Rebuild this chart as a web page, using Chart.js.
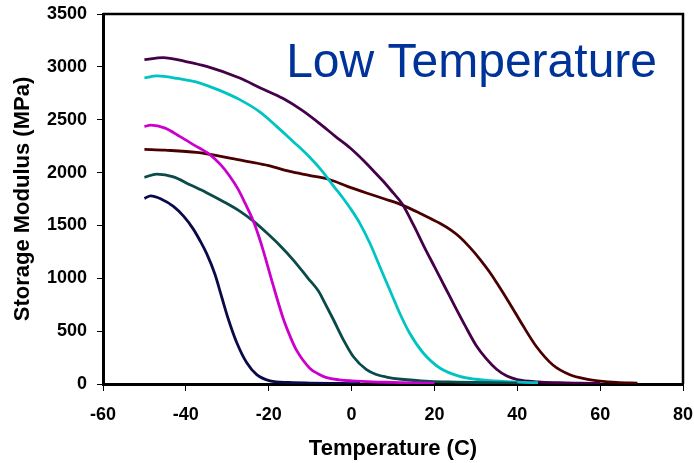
<!DOCTYPE html>
<html>
<head>
<meta charset="utf-8">
<script src="https://cdn.jsdelivr.net/npm/chart.js@4.4.1/dist/chart.umd.min.js"></script>
<style>
  body { margin: 0; background: #fff; }
  canvas { display: block; }
</style>
</head>
<body>
<canvas id="dmaChart" width="694" height="463"></canvas>
<script>
// temperatura (C) y modulo (MPa) de cada curva
const tempA = [-50, -48.5, -46, -43, -40.5, -38.2, -36.5, -35, -33, -31.4, -29.8, -27.7, -25.3, -22.9, -19.7, -15, -10, -5, 0, 2];
const modA  = [1755, 1780, 1750, 1680, 1585, 1465, 1350, 1235, 1040, 830, 620, 390, 200, 88, 30, 14, 9, 6, 4, 3];

const tempB = [-50, -48.5, -45, -41.4, -38, -34.2, -31.5, -29.4, -27.5, -25.7, -23.7, -22.5, -21.3, -18.9, -16.5, -14.5, -13.3, -10.1, -8, -6, -3, 0, 5, 10, 15, 20];
const modB  = [2435, 2448, 2420, 2340, 2260, 2170, 2070, 1965, 1850, 1710, 1540, 1410, 1260, 930, 620, 420, 320, 150, 95, 60, 40, 30, 20, 15, 10, 8];

const tempC = [-50, -47, -43, -39, -35, -31, -27, -23.7, -20.5, -17.3, -14, -10.5, -8, -6.5, -4.4, -2, 0.4, 3.6, 6, 8.4, 12, 18.9, 25, 30, 40];
const modC  = [1955, 1985, 1960, 1885, 1810, 1727, 1635, 1540, 1430, 1310, 1170, 1000, 880, 770, 610, 420, 260, 135, 90, 66, 45, 25, 18, 14, 8];

const tempD = [-50, -47, -42, -36.6, -32, -27, -22, -18.1, -14, -10.1, -7, -4.4, -2, 0, 2, 4.4, 6.8, 9.2, 11.6, 14, 17.3, 21.3, 26.1, 30, 33.4, 40, 45];
const modD  = [2895, 2915, 2890, 2847, 2780, 2690, 2570, 2437, 2290, 2145, 2010, 1875, 1755, 1645, 1520, 1334, 1112, 892, 672, 482, 293, 151, 72, 45, 31, 18, 12];

const tempE = [-50, -45.5, -40, -35, -27, -22, -16.5, -12, -7.6, -4, -0.4, 3, 5.2, 7.6, 10, 12.2, 15, 17.5, 20, 22.5, 25, 27.5, 30, 32.5, 35, 37.5, 40, 45, 50, 55, 60];
const modE  = [3068, 3088, 3050, 3004, 2894, 2800, 2700, 2590, 2460, 2345, 2235, 2110, 2020, 1920, 1810, 1705, 1500, 1300, 1110, 920, 730, 545, 370, 240, 140, 75, 42, 20, 12, 8, 5];

const tempF = [-50, -45, -37.4, -30, -25.3, -20, -14.9, -10, -5.2, -1, 3.6, 8, 12.4, 17, 21.3, 24, 26.1, 28.5, 31, 33.4, 35, 38.2, 41.4, 44.6, 48.6, 52.7, 56.7, 60, 64, 69];
const modF  = [2220, 2212, 2191, 2142, 2106, 2065, 2011, 1972, 1932, 1870, 1807, 1750, 1690, 1605, 1520, 1455, 1390, 1295, 1180, 1055, 960, 760, 550, 355, 180, 88, 47, 28, 15, 8];

const xTicks = [-60, -40, -20, 0, 20, 40, 60, 80];
const yTicks = [0, 500, 1000, 1500, 2000, 2500, 3000, 3500];

const colores = ["#0a0a4a", "#cc00cc", "#0a4a48", "#00c4c4", "#440048", "#4a0000"];

function puntos(t, m) {
  return t.map((v, i) => ({ x: v, y: m[i] }));
}

const series = [[tempA, modA], [tempB, modB], [tempC, modC], [tempD, modD], [tempE, modE], [tempF, modF]];

const marco = {
  id: "marco",
  afterDraw(chart) {
    const { ctx, chartArea: a } = chart;
    ctx.save();
    ctx.strokeStyle = "#000";
    ctx.lineWidth = 2.5;
    ctx.beginPath();
    ctx.moveTo(a.left, a.top);
    ctx.lineTo(a.right, a.top);
    ctx.lineTo(a.right, a.bottom);
    ctx.stroke();
    ctx.fillStyle = "#003399";
    ctx.font = "48px 'Liberation Sans', Arial, sans-serif";
    ctx.textAlign = "right";
    ctx.textBaseline = "alphabetic";
    ctx.fillText("Low Temperature", a.right - 26, a.top + 63);
    ctx.restore();
  }
};

const fuenteEje = { family: "'Liberation Sans', Arial, sans-serif", size: 18, weight: "bold" };
const fuenteTitulo = { family: "'Liberation Sans', Arial, sans-serif", size: 22, weight: "bold" };

new Chart(document.getElementById("dmaChart"), {
  type: "line",
  data: {
    datasets: series.map((s, i) => ({
      data: puntos(s[0], s[1]),
      borderColor: colores[i],
      borderWidth: 2.8,
      pointRadius: 0,
      fill: false,
      cubicInterpolationMode: "monotone"
    }))
  },
  options: {
    responsive: false,
    animation: false,
    layout: { padding: { top: 14, right: 11, left: 0, bottom: 0 } },
    plugins: { legend: { display: false }, tooltip: { enabled: false } },
    scales: {
      x: {
        type: "linear",
        min: -60,
        max: 80,
        afterBuildTicks: s => { s.ticks = xTicks.map(v => ({ value: v })); },
        afterFit: s => { s.height = 79; s.paddingLeft = 0; s.paddingRight = 0; },
        ticks: { color: "#000", font: fuenteEje, padding: 13, maxRotation: 0 },
        grid: { drawOnChartArea: false, drawTicks: true, tickLength: 7, tickColor: "#000", tickWidth: 1 },
        border: { color: "#000", width: 3 },
        title: { display: true, text: "Temperature (C)", color: "#000", font: fuenteTitulo, padding: { top: 0, bottom: 1 } }
      },
      y: {
        min: 0,
        max: 3500,
        afterBuildTicks: s => { s.ticks = yTicks.map(v => ({ value: v })); },
        afterFit: s => { s.width = 103; s.paddingTop = 0; s.paddingBottom = 0; },
        ticks: { color: "#000", font: fuenteEje, padding: 10, callback: v => String(v) },
        grid: { drawOnChartArea: false, drawTicks: true, tickLength: 6, tickColor: "#000", tickWidth: 1 },
        border: { color: "#000", width: 3 },
        title: { display: true, text: "Storage Modulus (MPa)", color: "#000", font: fuenteTitulo, padding: { top: 10, bottom: 0 } }
      }
    }
  },
  plugins: [marco]
});
</script>
</body>
</html>
